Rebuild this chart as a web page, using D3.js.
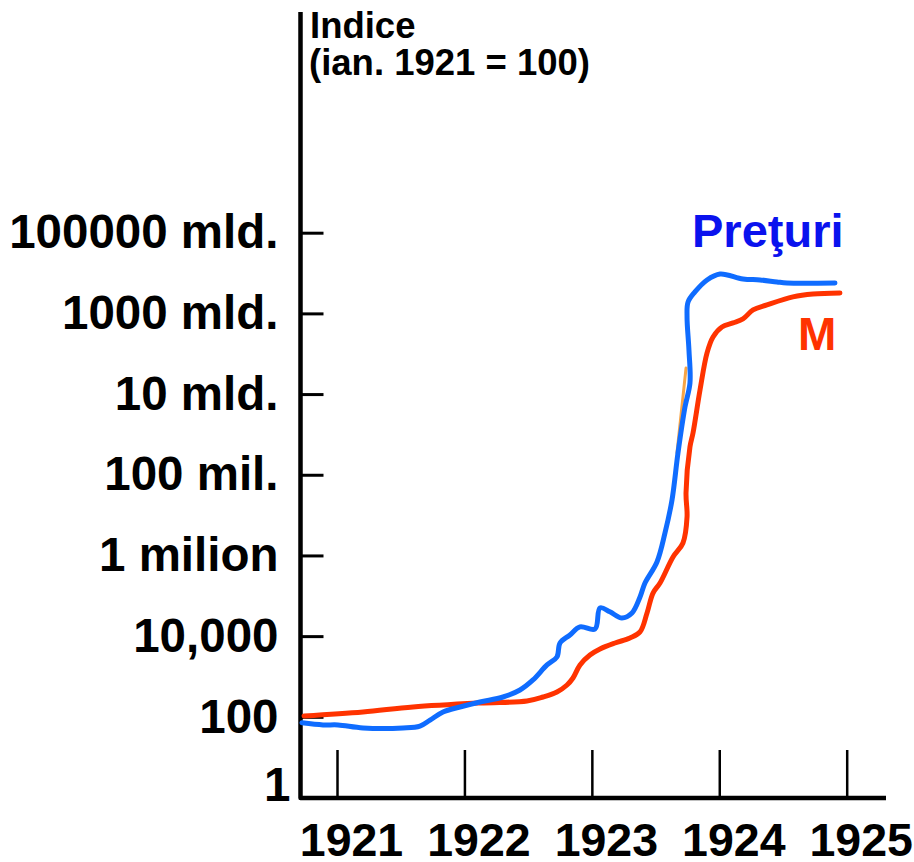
<!DOCTYPE html>
<html>
<head>
<meta charset="utf-8">
<script src="https://cdn.jsdelivr.net/npm/d3@7"></script>
<style>
    body { margin: 0; background: #fff; }
    svg { display: block; font-family: "Liberation Sans", Arial, sans-serif; font-weight: bold; }
</style>
</head>
<body>
<div id="chartId"></div>
<script>
/*
Data (time in decimal years, index with ian. 1921 = 100)
*/
const prices_t = [1920.725, 1920.89, 1921.008, 1921.204, 1921.518, 1921.651, 1921.73, 1921.832, 1921.965,
    1922.122, 1922.303, 1922.436, 1922.538, 1922.648, 1922.726, 1922.75, 1922.828, 1922.907, 1923.025,
    1923.064, 1923.142, 1923.236, 1923.315, 1923.378, 1923.417, 1923.511, 1923.574, 1923.629, 1923.676,
    1923.731, 1923.77, 1923.762, 1923.747, 1923.755, 1923.809, 1923.904, 1924.006, 1924.186, 1924.32,
    1924.453, 1924.531, 1924.908];
const prices_v = [71, 63, 63, 53, 53, 59, 83, 132, 175,
    233, 310, 462, 819, 1930, 3040, 6760, 1.07e4, 1.69e4, 1.5e4,
    5.0e4, 4.0e4, 2.82e4, 3.75e4, 9.33e4, 2.07e5, 6.89e5, 3.61e6, 2.37e7, 3.47e8,
    4.8e9, 1.88e10, 1.24e11, 8.15e11, 1.92e12, 3.4e12, 6.75e12, 9.5e12, 7.13e12, 6.75e12,
    6.01e12, 5.68e12, 5.68e12];

const money_t = [1920.741, 1921.204, 1921.596, 1922.122, 1922.491, 1922.617, 1922.726, 1922.805, 1922.852,
    1922.907, 1922.985, 1923.064, 1923.182, 1923.299, 1923.378, 1923.433, 1923.48, 1923.535, 1923.637,
    1923.715, 1923.747, 1923.739, 1923.77, 1923.794, 1923.849, 1923.904, 1923.951, 1924.021, 1924.108,
    1924.186, 1924.265, 1924.374, 1924.578, 1924.735, 1924.947];
const money_v = [105, 132, 175, 220, 247, 310, 412, 615, 916,
    1930, 3400, 4800, 6760, 9000, 1.27e4, 3.75e4, 1.17e5, 2.07e5, 9.16e5,
    2.04e6, 9.0e6, 3.54e7, 4.89e8, 1.09e9, 1.27e10, 1.05e11, 2.61e11, 4.61e11, 5.81e11,
    7.29e11, 1.22e12, 1.62e12, 2.56e12, 3.03e12, 3.21e12];

// the short orange stroke beside the blue line
const stray_t = [1923.739, 1923.668];
const stray_v = [4.4e10, 3.47e8];

const years = [1921, 1922, 1923, 1924, 1925];
const y_ticks = [1, 1e2, 1e4, 1e6, 1e8, 1e10, 1e12, 1e14];
const y_labels = ["1", "100", "10,000", "1 milion", "100 mil.", "10 mld.", "1000 mld.", "100000 mld."];

/*
SVG and scales
*/
const width = 914, height = 862;
const axis_x = 300.5, axis_y = 798;

var svg = d3.select("#chartId").append("svg")
    .attr("width", width)
    .attr("height", height);

var x = d3.scaleLinear().domain([1921, 1925]).range([337, 846.7]);
var y = d3.scaleLog().domain([1, 1e14]).range([797.5, 232.7]);

/*
Axes
*/
var y_axis = d3.axisLeft(y)
    .tickValues(y_ticks)
    .tickFormat((d, i) => y_labels[i])
    .tickSizeInner(-23)
    .tickSizeOuter(0)
    .tickPadding(22);

var g_y = svg.append("g")
    .attr("transform", `translate(${axis_x},0)`)
    .call(y_axis);
g_y.select(".domain").remove();
g_y.selectAll(".tick line").attr("stroke", "#000").attr("stroke-width", 3);
g_y.selectAll(".tick text")
    .attr("font-size", 47.5)
    .attr("font-family", null)
    .attr("fill", "#000");
// "1" sits a little higher and closer to the axis
g_y.selectAll(".tick text").filter(d => d == 1)
    .attr("dx", 12)
    .attr("dy", "0.32em")
    .attr("y", -12);

var x_axis = d3.axisBottom(x)
    .tickValues(years)
    .tickFormat(d3.format("d"))
    .tickSizeInner(-48)
    .tickSizeOuter(0)
    .tickPadding(25);

var g_x = svg.append("g")
    .attr("transform", `translate(0,${axis_y})`)
    .call(x_axis);
g_x.select(".domain").remove();
g_x.selectAll(".tick line").attr("stroke", "#000").attr("stroke-width", 2.5);
g_x.selectAll(".tick text")
    .attr("font-size", 46.5)
    .attr("font-family", null)
    .attr("fill", "#000")
    .attr("dx", 14);

// the two axis lines
svg.append("path")
    .attr("d", `M${axis_x},12 V${axis_y} H886`)
    .attr("fill", "none")
    .attr("stroke", "#000")
    .attr("stroke-width", 4.5)
    .attr("stroke-linejoin", "round");

/*
Series
*/
var line = d3.line()
    .curve(d3.curveCatmullRom.alpha(0.5))
    .x(d => x(d[0]))
    .y(d => y(d[1]));

function draw_series(ts, vs, colour, w) {
    svg.append("path")
        .datum(d3.zip(ts, vs))
        .attr("d", line)
        .attr("fill", "none")
        .attr("stroke", colour)
        .attr("stroke-width", w)
        .attr("stroke-linejoin", "round")
        .attr("stroke-linecap", "round");
}

draw_series(stray_t, stray_v, "#f7a445", 3);
draw_series(money_t, money_v, "#ff3300", 5);
draw_series(prices_t, prices_v, "#0f6cff", 5);

/*
Labels
*/
svg.append("text")
    .attr("x", 310).attr("y", 38)
    .attr("font-size", 36.5)
    .text("Indice");
svg.append("text")
    .attr("x", 309).attr("y", 75)
    .attr("font-size", 36.5)
    .text("(ian. 1921 = 100)");

svg.append("text")
    .attr("x", 692).attr("y", 247)
    .attr("font-size", 47)
    .attr("fill", "#0a12ee")
    .text("Preţuri");
svg.append("text")
    .attr("x", 798).attr("y", 350)
    .attr("font-size", 46)
    .attr("fill", "#ff3300")
    .text("M");
</script>
</body>
</html>
